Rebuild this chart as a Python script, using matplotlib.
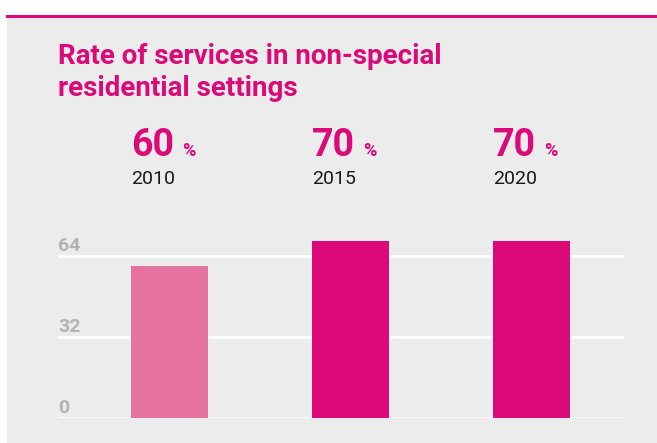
import matplotlib
matplotlib.use('Agg')
import matplotlib.pyplot as plt
import matplotlib.transforms as mtransforms
from matplotlib.patches import Rectangle
from matplotlib.lines import Line2D

# data
years = ['2010', '2015', '2020']
values = [60, 70, 70]
bar_colors = ['#e672a0', '#dc0a78', '#dc0a78']
yticks = [0, 32, 64]
title_lines = ['Rate of services in non-special', 'residential settings']

pink = '#dc0a78'
bg = '#ececec'

plt.rcParams['font.family'] = ['Roboto', 'DejaVu Sans']

W, H = 657, 443
fig = plt.figure(figsize=(W / 100, H / 100), dpi=100, facecolor='white')

# grey panel and pink top rule
fig.patches.append(Rectangle((7 / W, 0), 1 - 7 / W, 1 - 17 / H, transform=fig.transFigure,
                             facecolor=bg, edgecolor='none', zorder=-5))
fig.lines.append(Line2D([7 / W, 1], [1 - 16 / H, 1 - 16 / H], transform=fig.transFigure,
                        color=pink, linewidth=2.2))

for i, line in enumerate(title_lines):
    fig.text(58 / W, 1 - (64 + 32 * i) / H, line, color=pink, fontsize=20,
             fontweight='bold', va='baseline', ha='left')

# axes
ax = fig.add_axes([58 / W, 25.5 / H, 566 / W, 182 / H])
ax.set_facecolor('none')
ax.set_zorder(2)
x = list(range(len(values)))
ax.bar(x, values, width=0.425, color=bar_colors, zorder=3)
ax.set_xlim(-0.616, 2.511)
ax.set_ylim(0, 72)
for v in yticks:
    ax.axhline(v, color='white', linewidth=2, zorder=1)
    ax.annotate(str(v), xy=(0, v), xycoords=ax.get_yaxis_transform(),
                xytext=(0, 3.5), textcoords='offset points', color='#b3b3b3',
                fontsize=14, fontweight='bold', ha='left', va='baseline')
ax.axis('off')

# header numbers above bars
trans = mtransforms.blended_transform_factory(ax.transData, fig.transFigure)
for xi, val, yr in zip(x, values, years):
    left = xi - 0.425 / 2
    t = ax.text(left, 1 - 156 / H, str(val), transform=trans, color=pink,
                fontsize=27, fontweight='bold', ha='left', va='baseline', clip_on=False)
    ax.annotate('%', xy=(1, 0), xycoords=t, xytext=(6, 5.5), textcoords='offset points',
                color=pink, fontsize=13, fontweight='bold', ha='left', va='baseline',
                annotation_clip=False)
    ax.text(left, 1 - 184 / H, yr, transform=trans, color='#1a1a1a',
            fontsize=14, ha='left', va='baseline', clip_on=False)

fig.savefig('out.png', dpi=100, facecolor='white')
